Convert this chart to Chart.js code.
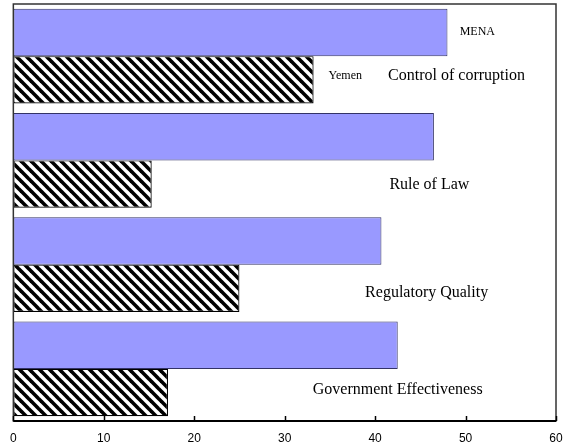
<!DOCTYPE html>
<html>
<head>
<meta charset="utf-8">
<script src="https://cdn.jsdelivr.net/npm/chart.js@4/dist/chart.umd.min.js"></script>
<style>
  html, body { margin: 0; padding: 0; background: #fff; }
  #wrap { width: 577px; height: 447px; }
</style>
</head>
<body>
<div id="wrap"><canvas id="c" width="577" height="447"></canvas></div>
<script>
// Governance indicators (percentile rank), MENA average vs Yemen
const categories = ['Control of corruption', 'Rule of Law', 'Regulatory Quality', 'Government Effectiveness'];
const menaValues = [48.0, 46.5, 40.7, 42.5];
const yemenValues = [33.2, 15.3, 25.0, 17.1];
const xTicks = [0, 10, 20, 30, 40, 50, 60];

// Where the in-plot captions sit, in axis units (horizontal centre)
const categoryCaptionX = [49.0, 46.0, 45.7, 42.5];
const seriesCaptionX = { MENA: 51.3, Yemen: 36.7 };

// Diagonal black/white hatch for the Yemen bars
function makeHatch() {
  const p = document.createElement('canvas');
  p.width = 10; p.height = 10;
  const g = p.getContext('2d');
  g.fillStyle = '#fff';
  g.fillRect(0, 0, 10, 10);
  g.strokeStyle = '#000';
  g.lineWidth = 3.6;
  for (let o = -10; o <= 10; o += 10) {
    g.beginPath();
    g.moveTo(o - 2, -2);
    g.lineTo(o + 12, 12);
    g.stroke();
  }
  return document.getElementById('c').getContext('2d').createPattern(p, 'repeat');
}

// Frame around the plot, inward tick marks and the captions
const decorations = {
  id: 'decorations',
  afterDatasetsDraw(chart) {
    const { ctx, chartArea: a, scales } = chart;
    const xs = scales.x;
    ctx.save();
    // frame
    ctx.strokeStyle = '#333';
    ctx.lineWidth = 1.5;
    ctx.strokeRect(a.left, a.top, a.right - a.left, a.bottom - a.top);
    // bottom axis line
    ctx.strokeStyle = '#000';
    ctx.lineWidth = 2;
    ctx.beginPath();
    ctx.moveTo(a.left, a.bottom);
    ctx.lineTo(a.right, a.bottom);
    ctx.stroke();
    // inward ticks
    ctx.lineWidth = 1.5;
    xTicks.forEach(v => {
      const px = Math.round(xs.getPixelForValue(v)) + 0.5;
      ctx.beginPath();
      ctx.moveTo(px, a.bottom);
      ctx.lineTo(px, a.bottom - 5);
      ctx.stroke();
    });
    // captions
    ctx.fillStyle = '#000';
    ctx.textAlign = 'center';
    ctx.textBaseline = 'middle';
    const menaMeta = chart.getDatasetMeta(0);
    const yemenMeta = chart.getDatasetMeta(1);
    ctx.font = '12px "Liberation Serif", "Times New Roman", serif';
    ctx.fillText('MENA', xs.getPixelForValue(seriesCaptionX.MENA), menaMeta.data[0].y - 1);
    ctx.fillText('Yemen', xs.getPixelForValue(seriesCaptionX.Yemen), yemenMeta.data[0].y - 4);
    ctx.font = '16px "Liberation Serif", "Times New Roman", serif';
    categories.forEach((name, i) => {
      const yBar = yemenMeta.data[i].y;
      const off = [-4, 1, 4, -3][i];
      ctx.fillText(name, xs.getPixelForValue(categoryCaptionX[i]), yBar + off);
    });
    ctx.restore();
  }
};

new Chart(document.getElementById('c'), {
  type: 'bar',
  data: {
    labels: categories,
    datasets: [
      {
        label: 'MENA',
        data: menaValues,
        backgroundColor: '#9999ff',
        borderColor: '#333366',
        borderWidth: 1,
        borderSkipped: false
      },
      {
        label: 'Yemen',
        data: yemenValues,
        backgroundColor: makeHatch(),
        borderColor: '#000',
        borderWidth: 1.2,
        borderSkipped: false
      }
    ]
  },
  options: {
    indexAxis: 'y',
    responsive: false,
    animation: false,
    devicePixelRatio: 1,
    layout: { padding: { left: 12, right: 21, top: 4, bottom: 2 } },
    categoryPercentage: 0.91,
    barPercentage: 1.0,
    plugins: {
      legend: { display: false },
      tooltip: { enabled: false }
    },
    scales: {
      x: {
        min: 0,
        max: 60,
        afterBuildTicks(scale) { scale.ticks = xTicks.map(v => ({ value: v })); },
        afterFit(scale) { scale.height = 24; },
        grid: { display: false, drawTicks: false },
        border: { display: false },
        ticks: {
          padding: 10,
          color: '#000',
          maxRotation: 0,
          font: { family: 'Liberation Sans, Arial, sans-serif', size: 12 }
        }
      },
      y: {
        display: false
      }
    }
  },
  plugins: [decorations]
});
</script>
</body>
</html>
